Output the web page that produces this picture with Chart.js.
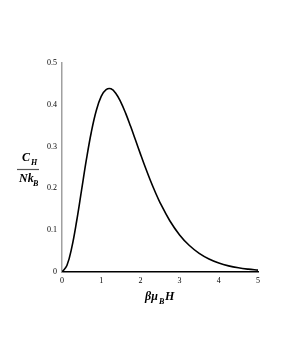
<!DOCTYPE html>
<html>
<head>
<meta charset="utf-8">
<script src="https://cdn.jsdelivr.net/npm/chart.js@4"></script>
<style>
  html, body { margin: 0; padding: 0; background: #fff; }
  #wrap { position: relative; width: 281px; height: 363px; }
</style>
</head>
<body>
<div id="wrap"><canvas id="chart"></canvas></div>
<script>
'use strict';

// ── Data ─────────────────────────────────────────────────────────────────────
const X_VALUES = [0, 0.125, 0.25, 0.375, 0.5, 0.625, 0.75, 0.875, 1.0, 1.125, 1.25, 1.375, 1.5, 1.625,
                  1.75, 1.875, 2.0, 2.125, 2.25, 2.375, 2.5, 2.75, 3.0, 3.25, 3.5, 3.75, 4.0, 4.25, 4.5, 4.75, 5.0];
const C_VALUES = [0, 0.0155, 0.0588, 0.1226, 0.1966, 0.2705, 0.3356, 0.3862, 0.42, 0.4361, 0.4382, 0.4271, 0.4066, 0.3796,
                  0.3485, 0.3157, 0.2826, 0.2504, 0.220, 0.1919, 0.1662, 0.1226, 0.0888, 0.0633, 0.0446, 0.0311, 0.0215,
                  0.0147, 0.0100, 0.0068, 0.0045];
const X_TICKS  = [0, 1, 2, 3, 4, 5];
const Y_TICKS  = [0, 0.1, 0.2, 0.3, 0.4, 0.5];

const SERIF = '"Liberation Serif", "DejaVu Serif", serif';

// ── Axis titles (fraction + subscripts) ──────────────────────────────────────
const titlePlugin = {
  id: 'titles',
  afterDraw(chart) {
    const ctx = chart.ctx;
    ctx.save();
    ctx.fillStyle = '#000';
    ctx.textBaseline = 'alphabetic';
    ctx.textAlign = 'left';

    // y title:  C_H / Nk_B
    ctx.font = `italic bold 12px ${SERIF}`;
    ctx.fillText('C', 22, 161);
    ctx.font = `italic bold 8px ${SERIF}`;
    ctx.fillText('H', 31, 165);
    ctx.strokeStyle = '#555';
    ctx.lineWidth = 1.2;
    ctx.beginPath();
    ctx.moveTo(17, 169.5);
    ctx.lineTo(39, 169.5);
    ctx.stroke();
    ctx.font = `italic bold 12px ${SERIF}`;
    ctx.fillText('Nk', 19, 182);
    ctx.font = `italic bold 8px ${SERIF}`;
    ctx.fillText('B', 33, 186);

    // x title:  βμ_B H
    ctx.font = `italic bold 12px ${SERIF}`;
    ctx.fillText('βμ', 145, 300);
    ctx.font = `italic bold 8px ${SERIF}`;
    ctx.fillText('B', 159, 304);
    ctx.font = `italic bold 12px ${SERIF}`;
    ctx.fillText('H', 165, 300);
    ctx.restore();
  }
};

// ── Chart ────────────────────────────────────────────────────────────────────
new Chart(document.getElementById('chart'), {
  type: 'line',
  data: {
    datasets: [{
      data: X_VALUES.map((x, i) => ({ x, y: C_VALUES[i] })),
      borderColor: '#000',
      borderWidth: 1.6,
      pointRadius: 0,
      fill: false,
      tension: 0.4
    }]
  },
  options: {
    responsive: true,
    maintainAspectRatio: false,
    animation: false,
    layout: { padding: { top: 63, right: 23, left: 0, bottom: 0 } },
    plugins: { legend: { display: false }, tooltip: { enabled: false } },
    scales: {
      x: {
        type: 'linear',
        min: 0, max: 5,
        afterBuildTicks: s => { s.ticks = X_TICKS.map(v => ({ value: v })); },
        afterFit: s => { s.height = 91; },
        grid: { display: false, drawTicks: false },
        border: { color: '#000', width: 1.5 },
        ticks: {
          color: '#000',
          padding: 4,
          maxRotation: 0,
          font: { family: SERIF, size: 8 },
          callback: v => String(v)
        }
      },
      y: {
        type: 'linear',
        min: 0, max: 0.5,
        afterBuildTicks: s => { s.ticks = Y_TICKS.map(v => ({ value: v })); },
        afterFit: s => { s.width = 62; },
        grid: { display: false, drawTicks: false },
        border: { color: '#a0a0a0', width: 1.5 },
        ticks: {
          color: '#000',
          padding: 5,
          font: { family: SERIF, size: 8 },
          callback: v => String(+v.toFixed(1))
        }
      }
    }
  },
  plugins: [titlePlugin]
});
</script>
</body>
</html>
